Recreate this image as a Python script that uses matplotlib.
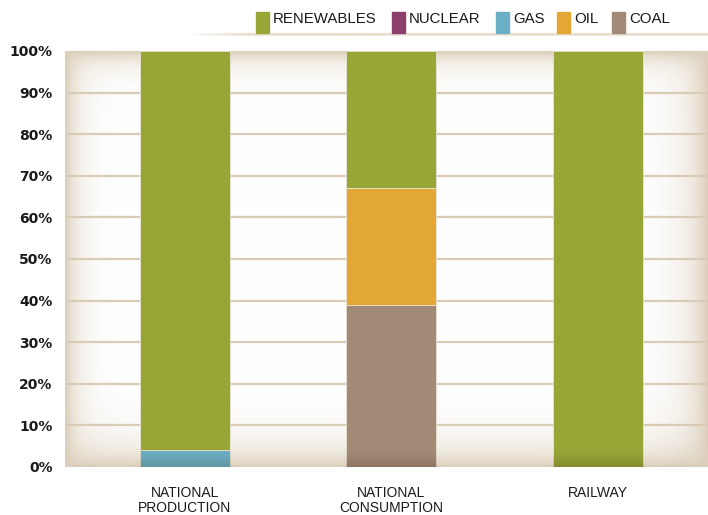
import numpy as np
import matplotlib
matplotlib.use("Agg")
import matplotlib.pyplot as plt
from matplotlib.patches import Rectangle

# data (percent)
categories = ["NATIONAL\nPRODUCTION", "NATIONAL\nCONSUMPTION", "RAILWAY"]
sources = ["RENEWABLES", "NUCLEAR", "GAS", "OIL", "COAL"]
renewables = [96, 33, 100]
nuclear = [0, 0, 0]
gas = [4, 0, 0]
oil = [0, 28, 0]
coal = [0, 39, 0]

colors = {"RENEWABLES": "#97a637", "NUCLEAR": "#8b3f6a", "GAS": "#6aafc6",
          "OIL": "#e3a736", "COAL": "#a38a77"}

W, H = 708, 515
fig = plt.figure(figsize=(W / 100, H / 100), dpi=100)
ax = fig.add_axes([65 / W, 1 - 467 / H, 643 / W, 416 / H])

# vignette background
nx, ny = 643, 416
xs = np.arange(nx)[None, :]
ys = np.arange(ny)[:, None]
f = lambda d, s: np.exp(-d / s)
inside = (1 - f(xs, 13)) * (1 - f(nx - 1 - xs, 20)) * (1 - f(ys, 12)) * (1 - f(ny - 1 - ys, 20))
shade = 1 - inside
edge = np.array([0.86, 0.81, 0.73])
img = np.ones((ny, nx, 3)) * (1 - shade[..., None]) + edge * shade[..., None]
ax.imshow(img, extent=[0, 1, 0, 1], transform=ax.transAxes, aspect="auto", zorder=0)

x = np.arange(len(categories))
bw = 0.436
series = [renewables, nuclear, gas, oil, coal]
# stack order from bottom: coal, oil, gas, nuclear, renewables
bottom = np.zeros(len(categories))
for name, vals in zip(sources[::-1], series[::-1]):
    vals = np.array(vals, dtype=float)
    ax.bar(x, vals, bw, bottom=bottom, color=colors[name], edgecolor="#ece3d4",
           linewidth=0.6, zorder=3)
    bottom += vals

# slight darkening at the foot of each bar
shadow = np.zeros((40, 2, 4))
shadow[..., :3] = [0.25, 0.2, 0.1]
shadow[..., 3] = np.linspace(0.0, 0.22, 40)[:, None] ** 1.5 / 0.22 ** 0.5
for xi in x:
    ax.imshow(shadow, extent=[xi - bw / 2, xi + bw / 2, 0, 4.5], origin="upper",
              aspect="auto", zorder=4, interpolation="bilinear")
ax.set_aspect("auto")

ax.set_xlim(-0.581, 2.533)
ax.set_ylim(0, 100)
ax.set_yticks(np.arange(0, 101, 10))
ax.set_yticklabels([f"{v}%" for v in range(0, 101, 10)], fontsize=10,
                   family="DejaVu Sans", fontweight="bold", color="#1a1a1a")
ax.set_xticks(x)
ax.set_xticklabels(categories, fontsize=10, family="Liberation Sans", color="#1a1a1a",
                   linespacing=1.05)
ax.tick_params(axis="both", length=0)
ax.tick_params(axis="y", pad=9)
ax.tick_params(axis="x", pad=14)
for v in range(10, 100, 10):
    ax.axhline(v, color="#d9ccb6", lw=1.6, zorder=1)
for s in ax.spines.values():
    s.set_visible(False)

# legend line under legend
lax = fig.add_axes([185 / W, 1 - 36 / H, (W - 185) / W, 3 / H])
grad = np.linspace(0, 1, 300)
alpha = np.clip(grad / 0.12, 0, 1)
limg = np.ones((3, 300, 4))
limg[..., :3] = [0.90, 0.85, 0.78]
limg[..., 3] = alpha[None, :] * np.array([0.5, 1.0, 0.6])[:, None]
lax.imshow(limg, aspect="auto", extent=[0, 1, 0, 1])
lax.axis("off")

# legend
leg_x = [256, 392, 496, 557, 612]
for name, lx in zip(sources, leg_x):
    fig.add_artist(Rectangle((lx / W, 1 - 33 / H), 13 / W, 21 / H,
                             transform=fig.transFigure, color=colors[name]))
    fig.text((lx + 17) / W, 1 - 19 / H, name, fontsize=10.8, family="Liberation Sans",
             ha="left", va="center", color="#1a1a1a")

fig.savefig("out.png", dpi=100)
